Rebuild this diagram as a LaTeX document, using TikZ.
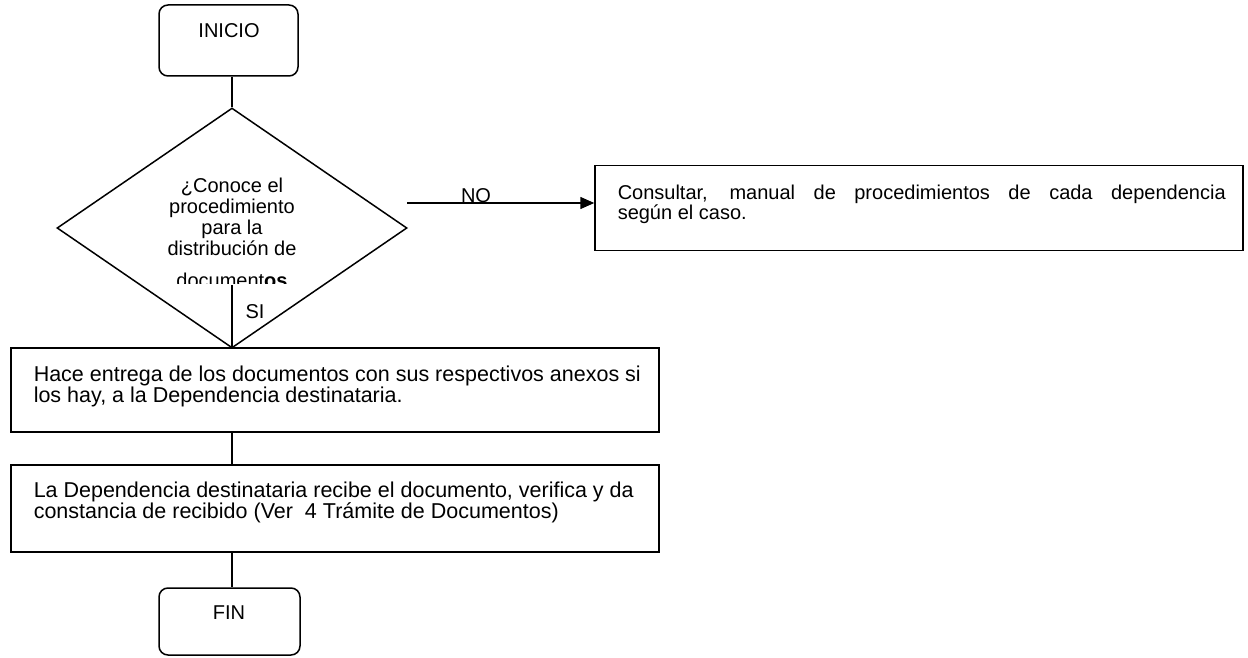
\documentclass[tikz,border=0pt]{standalone}
\usepackage{fontspec}
\setmainfont{Liberation Sans}
\usetikzlibrary{arrows.meta,shapes.geometric}
\begin{document}
\begin{tikzpicture}[x=1pt,y=-1pt,line width=1.5pt,
  every node/.style={inner sep=0pt},
  txt/.style={font=\fontsize{20}{21}\selectfont},
  bigtxt/.style={font=\fontsize{21.5}{20.5}\selectfont},
  term/.style={draw,rounded corners=9pt},
  procbox/.style={draw},
  flow/.style={draw,line width=1.5pt},
  arr/.style={draw,line width=1.5pt,-{Triangle[length=14pt,width=12pt]}}]
\useasboundingbox (0,0) rectangle (1248,658);
% INICIO
\node[term,minimum width=139pt,minimum height=71pt] (ini) at (228.5,40.5) {};
\node[txt,anchor=base] (initxt) at (229,38) {INICIO};
% diamond
\node[draw,diamond,minimum width=350pt,minimum height=240pt] (dec) at (232,228) {};
\node[txt,anchor=base,align=center] (dectxt) at (232,255)
 {¿Conoce el\\procedimiento\\para  la\\distribución de};
\begin{scope}
\clip (150,265) rectangle (320,283);
\node[txt,anchor=base] (dectxtb) at (232,287) {document\textbf{os}};
\end{scope}
\coordinate (siTop) at (232,285);
\draw[flow] (ini.south -| dec.north) -- (dec.north);
\draw[flow] (siTop) -- (dec.south);
\node[txt,anchor=base] (si) at (255,318) {SI};
% NO branch
\node[procbox,minimum width=648pt,minimum height=85pt] (cons) at (919,208) {};
\coordinate (noStart) at (407,203);
\draw[arr] (noStart) -- (noStart -| cons.west);
\node[txt,anchor=base] (no) at (476,203) {NO};
\node[txt,anchor=north west,text width=608pt,align=justify,font=\fontsize{20}{20}\selectfont] (constxt) at (617,184)
 {Consultar, manual de procedimientos de cada dependencia\linebreak según el caso.};
% Hace entrega
\node[procbox,minimum width=648pt,minimum height=84pt] (hace) at (335,390) {};
\node[bigtxt,anchor=base west,align=left] (hacetxt) at (33,402)
 {Hace entrega de los documentos con sus respectivos anexos si\\los hay, a la Dependencia destinataria.};
% La Dependencia
\node[procbox,minimum width=648pt,minimum height=87pt] (dep) at (335,508.5) {};
\node[bigtxt,anchor=base west,align=left] (deptxt) at (33,518)
 {La Dependencia destinataria recibe el documento, verifica y da\\constancia de recibido (Ver\ \ 4 Trámite de Documentos)};
% FIN
\node[term,minimum width=141pt,minimum height=67pt] (fin) at (229.5,621.5) {};
\node[txt,anchor=base] (fintxt) at (229,619) {FIN};
\draw[flow] (dec.south) -- (hace.north -| dec.south);
\draw[flow] (hace.south -| dec.south) -- (dep.north -| dec.south);
\draw[flow] (dep.south -| dec.south) -- (fin.north -| dec.south);
\end{tikzpicture}
\end{document}
